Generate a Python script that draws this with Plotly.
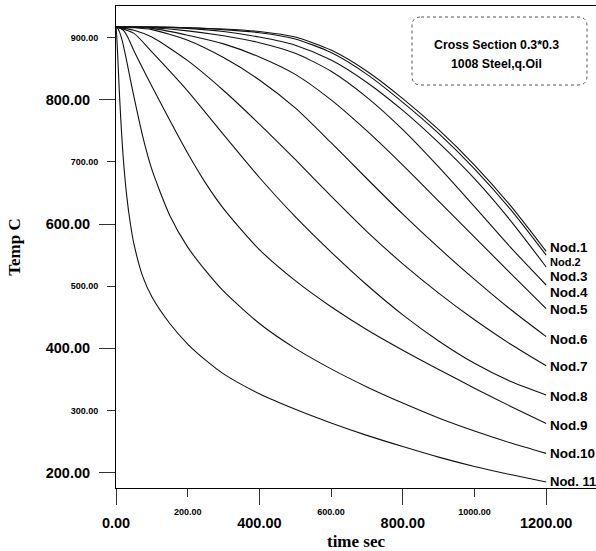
import plotly.graph_objects as go

# Time grids (s)
time_main = [0, 50, 100, 200, 300, 400, 500, 600, 700, 800, 900, 1000, 1100, 1200]
time_fine = [0, 2, 5, 10, 15, 20, 30, 40, 50, 75, 100, 150, 200, 250, 300,
             400, 500, 600, 700, 800, 900, 1000, 1100, 1200]

# Temperatures (C) of the inner nodes on time_main
nod1 = [917, 917, 917, 916, 914, 910, 901, 880, 846, 802, 752, 695, 630, 556]
nod2 = [917, 917, 917, 916, 913, 908, 898, 876, 841, 796, 746, 689, 624, 550]
nod3 = [917, 917, 917, 915, 910, 901, 888, 864, 828, 783, 731, 673, 606, 531]
nod4 = [917, 917, 916, 911, 903, 892, 875, 846, 804, 752, 692, 628, 563, 502]
nod5 = [917, 917, 915, 904, 890, 869, 841, 800, 750, 695, 637, 579, 521, 464]
nod6 = [917, 916, 913, 896, 868, 832, 787, 731, 673, 616, 562, 511, 463, 419]
nod7 = [917, 912, 901, 863, 815, 761, 704, 645, 588, 536, 489, 446, 407, 372]
nod8 = [917, 907, 877, 814, 744, 675, 612, 555, 502, 454, 412, 376, 347, 325]

# Temperatures (C) of the outer nodes on time_fine
nod9 = [917, 917, 917, 916, 914, 912, 904, 892, 879, 850, 822, 767, 714, 666,
        625, 559, 509, 467, 430, 397, 366, 336, 307, 279]
nod10 = [917, 916, 915, 909, 900, 889, 862, 833, 805, 740, 688, 614, 563, 525,
         492, 440, 400, 367, 338, 312, 288, 267, 248, 231]
nod11 = [917, 903, 868, 805, 752, 708, 645, 601, 568, 515, 483, 440, 407, 381,
         359, 327, 302, 280, 260, 242, 225, 210, 197, 185]

node_names = ["Nod.1", "Nod.2", "Nod.3", "Nod.4", "Nod.5", "Nod.6",
              "Nod.7", "Nod.8", "Nod.9", "Nod.10", "Nod. 11"]

# Axis ticks
x_major = [0, 400, 800, 1200]
x_major_text = ["0.00", "400.00", "800.00", "1200.00"]
x_minor = [200, 600, 1000]
x_minor_text = ["200.00", "600.00", "1000.00"]
y_major = [200, 400, 600, 800]
y_major_text = ["200.00", "400.00", "600.00", "800.00"]
y_minor = [300, 500, 700, 900]
y_minor_text = ["300.00", "500.00", "700.00", "900.00"]

info_lines = ["Cross Section 0.3*0.3", "1008 Steel,q.Oil"]

series = [
    (time_main, nod1), (time_main, nod2), (time_main, nod3), (time_main, nod4),
    (time_main, nod5), (time_main, nod6), (time_main, nod7), (time_main, nod8),
    (time_fine, nod9), (time_fine, nod10), (time_fine, nod11),
]

# vertical nudges (px) of the end labels and their font sizes
label_shift = [4, -7, -10, -7, -1, -3, -1, -2, -2, 0, 0]
label_size = [13.5, 11, 13.5, 13.5, 13.5, 13.5, 13.5, 13.5, 13.5, 13.5, 13]

W, H = 596, 551
ML, MR, MT, MB = 116, 0, 6, 63
X_RANGE = [0, 1339]
Y_RANGE = [175.3, 951]

SANS = "Liberation Sans, Arial, sans-serif"
SERIF = "Liberation Serif, Times New Roman, serif"

fig = go.Figure()
for (t, temp), name in zip(series, node_names):
    fig.add_trace(go.Scatter(
        x=t, y=temp, mode="lines", name=name,
        line=dict(color="#111111", width=1.1, shape="spline", smoothing=0.7),
        showlegend=False,
    ))

# end-of-curve labels
for (t, temp), name, dy, fs in zip(series, node_names, label_shift, label_size):
    fig.add_annotation(
        x=t[-1], y=temp[-1], xref="x", yref="y", text=name, showarrow=False,
        xanchor="left", yanchor="middle", xshift=2, yshift=dy,
        font=dict(family=SANS, size=fs, color="#000000", weight="bold"),
    )

def px_x(p):
    return (p - ML) / (W - ML - MR)

def px_y(p):
    return (H - MB - p) / (H - MT - MB)

# rounded, dotted info box
bx0, bx1, by0, by1, r = 412, 587, 17, 85, 9
rx = r / (W - ML - MR)
ry = r / (H - MT - MB)
X0, X1, YT, YB = px_x(bx0), px_x(bx1), px_y(by0), px_y(by1)
path = (f"M {X0+rx},{YT} L {X1-rx},{YT} Q {X1},{YT} {X1},{YT-ry} "
        f"L {X1},{YB+ry} Q {X1},{YB} {X1-rx},{YB} "
        f"L {X0+rx},{YB} Q {X0},{YB} {X0},{YB+ry} "
        f"L {X0},{YT-ry} Q {X0},{YT} {X0+rx},{YT} Z")
fig.add_shape(type="path", path=path, xref="paper", yref="paper",
              line=dict(color="#555555", width=1, dash="dot"))

for line, yc in zip(info_lines, [44.5, 64]):
    fig.add_annotation(
        x=px_x(496), y=px_y(yc), xref="paper", yref="paper", text=line,
        showarrow=False, xanchor="center", yanchor="middle",
        font=dict(family=SANS, size=12.3, color="#000000", weight="bold"),
    )

tick_font_major = dict(family=SANS, size=14.5, color="#000000", weight="bold")
tick_font_minor = dict(family=SANS, size=9, color="#000000", weight="bold")

fig.update_layout(
    width=W, height=H,
    margin=dict(l=ML, r=MR, t=MT, b=MB),
    paper_bgcolor="white", plot_bgcolor="white",
    xaxis=dict(
        range=X_RANGE, showgrid=False, zeroline=False,
        showline=True, linecolor="#000000", linewidth=1, mirror=True,
        tickmode="array", tickvals=x_major, ticktext=x_major_text,
        ticks="outside", ticklen=16, tickwidth=1, tickcolor="#333333",
        tickfont=tick_font_major, ticklabelstandoff=6,
        title=dict(text="time sec", standoff=4,
                   font=dict(family=SERIF, size=17, color="#000000", weight="bold")),
    ),
    xaxis2=dict(
        range=X_RANGE, overlaying="x", anchor="y", side="bottom",
        showgrid=False, zeroline=False, showline=False,
        tickmode="array", tickvals=x_minor, ticktext=x_minor_text,
        ticks="outside", ticklen=8, tickwidth=1, tickcolor="#333333",
        tickfont=tick_font_minor, ticklabelstandoff=7,
    ),
    yaxis=dict(
        range=Y_RANGE, showgrid=False, zeroline=False,
        showline=True, linecolor="#000000", linewidth=1,
        tickmode="array", tickvals=y_major, ticktext=y_major_text,
        ticks="outside", ticklen=16, tickwidth=1, tickcolor="#333333",
        tickfont=tick_font_major, ticklabelstandoff=6,
        title=dict(text="Temp C", standoff=20,
                   font=dict(family=SERIF, size=17, color="#000000", weight="bold")),
    ),
    yaxis2=dict(
        range=Y_RANGE, overlaying="y", anchor="x", side="left",
        showgrid=False, zeroline=False, showline=False,
        tickmode="array", tickvals=y_minor, ticktext=y_minor_text,
        ticks="outside", ticklen=8, tickwidth=1, tickcolor="#333333",
        tickfont=tick_font_minor, ticklabelstandoff=7,
    ),
)

# empty trace binding the overlay axes
fig.add_trace(go.Scatter(x=[None], y=[None], xaxis="x2", yaxis="y2",
                         showlegend=False, hoverinfo="skip"))

fig.write_html("out.html")
